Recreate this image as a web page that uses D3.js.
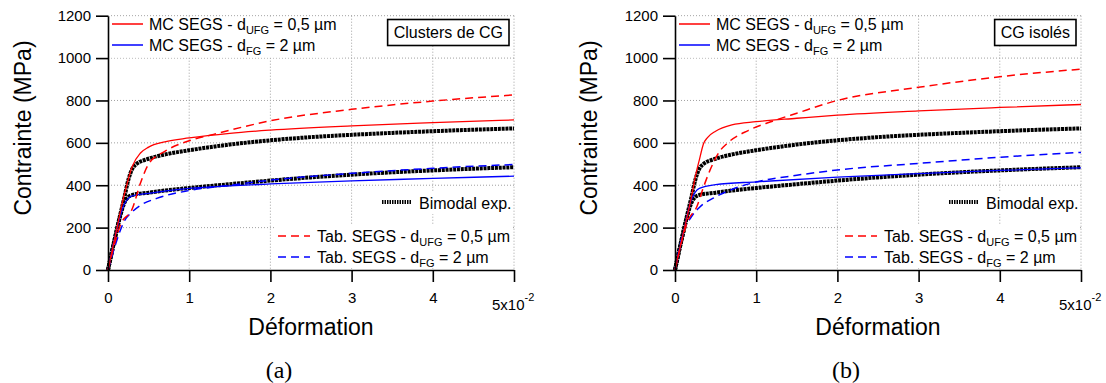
<!DOCTYPE html>
<html><head><meta charset="utf-8">
<script src="https://cdn.jsdelivr.net/npm/d3@7"></script>
<style>body{margin:0;background:#fff}svg{display:block}</style>
</head><body>
<svg id="c" width="1106" height="383"></svg>
<script>
// ---- data (strain in 1e-2, stress in MPa) ----
const strainTicks = [0, 1, 2, 3, 4, 5];
const stressTicks = [0, 200, 400, 600, 800, 1000, 1200];
const panelLabels = ["Clusters de CG", "CG isolés"];
const captions = ["(a)", "(b)"];

const expHigh = [[0,0],[0.05,90],[0.1,175],[0.15,260],[0.2,340],[0.25,425],[0.3,478],[0.35,500],[0.5,525],[0.7,545],[1,565],[1.5,592],[2,612],[2.5,627],[3,638],[3.5,647],[4,655],[4.5,662],[5,668]];
const expLow = [[0,0],[0.05,90],[0.1,175],[0.15,255],[0.2,315],[0.25,345],[0.3,354],[0.5,365],[0.7,375],[1,387],[1.5,405],[2,422],[2.5,437],[3,450],[3.5,461],[4,470],[4.5,478],[5,485]];

// (a) Clusters de CG
const mcUfgA = [[0,0],[0.1,180],[0.2,355],[0.3,490],[0.4,552],[0.5,580],[0.7,605],[1,623],[1.5,645],[2,660],[3,680],[4,695],[5,708]];
const mcFgA = [[0,0],[0.1,180],[0.2,310],[0.25,338],[0.3,350],[0.5,362],[1,385],[1.5,397],[2,406],[3,421],[4,432],[5,443]];
const tabUfgA = [[0,0],[0.1,150],[0.15,210],[0.3,290],[0.4,410],[0.5,500],[0.7,560],[1,610],[1.3,640],[2,704],[3,758],[4,797],[5,826]];
const tabFgA = [[0,0],[0.1,130],[0.15,185],[0.2,230],[0.3,275],[0.4,305],[0.6,338],[1,375],[1.5,400],[2,424],[3,456],[4,480],[5,498]];

// (b) CG isolés
const mcUfgB = [[0,0],[0.1,170],[0.2,340],[0.25,440],[0.3,520],[0.35,595],[0.4,625],[0.5,655],[0.7,685],[1,700],[1.5,716],[2,731],[3,751],[4,767],[5,781]];
const mcFgB = [[0,0],[0.1,170],[0.2,330],[0.25,368],[0.3,385],[0.5,403],[1,416],[2,438],[3,455],[4,470],[5,482]];
const tabUfgB = [[0,0],[0.1,160],[0.15,225],[0.27,300],[0.35,390],[0.43,470],[0.55,560],[0.65,600],[0.9,658],[1.2,702],[1.5,740],[2,800],[3,862],[4,912],[5,948]];
const tabFgB = [[0,0],[0.1,175],[0.2,250],[0.3,295],[0.5,345],[0.7,380],[1,415],[1.5,447],[2,472],[3,503],[4,532],[5,555]];

const RED = "#ff0000", BLUE = "#0000ff";
const FONT = "'Liberation Sans', Arial, sans-serif";

const svg = d3.select("#c");

function legendText(sel, x, y, pre, sub, post) {
  const t = sel.append("text").attr("x", x).attr("y", y)
    .attr("font-family", FONT).attr("font-size", 16).attr("fill", "#000");
  t.append("tspan").text(pre);
  t.append("tspan").attr("font-size", 11).attr("dy", 4).text(sub);
  t.append("tspan").attr("dy", -4).text(post);
  return t;
}

function panel(cfg) {
  const x = d3.scaleLinear().domain([0, 5]).range([cfg.x0, cfg.x1]);
  const y = d3.scaleLinear().domain([0, 1200]).range([270, 15.7]);
  const g = svg.append("g");

  // grid
  g.selectAll(".vg").data(strainTicks.slice(1)).join("line")
    .attr("x1", d => x(d)).attr("x2", d => x(d))
    .attr("y1", y(1200)).attr("y2", y(0))
    .attr("stroke", "#a0a0a0").attr("stroke-width", 1).attr("stroke-dasharray", "1,2");
  g.selectAll(".hg").data(stressTicks.slice(1)).join("line")
    .attr("x1", x(0)).attr("x2", x(5))
    .attr("y1", d => y(d)).attr("y2", d => y(d))
    .attr("stroke", "#a0a0a0").attr("stroke-width", 1).attr("stroke-dasharray", "1,2");

  const line = d3.line().x(d => x(d[0])).y(d => y(d[1])).curve(d3.curveMonotoneX);

  cfg.series.forEach(s => {
    g.append("path").datum(s.data).attr("d", line)
      .attr("fill", "none").attr("stroke", s.color)
      .attr("stroke-width", s.width)
      .attr("stroke-dasharray", s.dash || null);
  });

  const x5 = x(5), x0 = x(0);

  // top-left legend
  const tl = g.append("g");
  const tlBg = tl.append("rect").attr("fill", "#fff");
  tl.append("line").attr("x1", x0 + 4).attr("x2", x0 + 35).attr("y1", 24).attr("y2", 24).attr("stroke", RED).attr("stroke-width", 1.5);
  tl.append("line").attr("x1", x0 + 4).attr("x2", x0 + 35).attr("y1", 45).attr("y2", 45).attr("stroke", BLUE).attr("stroke-width", 1.5);
  const t1 = legendText(tl, x0 + 41, 30, "MC SEGS - d", "UFG", " = 0,5 µm");
  legendText(tl, x0 + 41, 51, "MC SEGS - d", "FG", " = 2 µm");
  const w1 = t1.node().getComputedTextLength();
  tlBg.attr("x", x0 + 1).attr("y", y(1200) + 1).attr("width", w1 + 46).attr("height", 41);

  // panel label box
  const lb = g.append("g");
  const lbRect = lb.append("rect").attr("fill", "#fff").attr("stroke", "#000").attr("stroke-width", 1.6);
  const lbt = lb.append("text").attr("text-anchor", "end").attr("x", x5 - 11).attr("y", 38)
    .attr("font-family", FONT).attr("font-size", 16).text(cfg.label);
  const lw = lbt.node().getComputedTextLength();
  lbRect.attr("x", x5 - 17 - lw).attr("y", 19.5).attr("width", lw + 12).attr("height", 26);

  // Bimodal exp legend
  const bl = g.append("g");
  bl.append("rect").attr("fill", "#fff").attr("x", x5 - 136).attr("y", 192).attr("width", 135).attr("height", 22);
  bl.append("line").attr("x1", x5 - 132).attr("x2", x5 - 102).attr("y1", 202).attr("y2", 202)
    .attr("stroke", "#000").attr("stroke-width", 4).attr("stroke-dasharray", "1.5,1");
  bl.append("text").attr("x", x5 - 95).attr("y", 208.5).attr("font-family", FONT).attr("font-size", 16).text("Bimodal exp.");

  // Tab legend
  const tb = g.append("g");
  tb.append("rect").attr("fill", "#fff").attr("x", x5 - 240).attr("y", 224).attr("width", 239).attr("height", 44);
  tb.append("line").attr("x1", x5 - 236).attr("x2", x5 - 204).attr("y1", 236).attr("y2", 236)
    .attr("stroke", RED).attr("stroke-width", 1.5).attr("stroke-dasharray", "8,5");
  tb.append("line").attr("x1", x5 - 236).attr("x2", x5 - 204).attr("y1", 257).attr("y2", 257)
    .attr("stroke", BLUE).attr("stroke-width", 1.5).attr("stroke-dasharray", "8,5");
  legendText(tb, x5 - 197, 241.5, "Tab. SEGS - d", "UFG", " = 0,5 µm");
  legendText(tb, x5 - 197, 262.5, "Tab. SEGS - d", "FG", " = 2 µm");

  // axes
  const ya = d3.axisLeft(y).tickValues(stressTicks).tickSize(12).tickSizeOuter(0).tickPadding(5)
    .tickFormat(d3.format("d"));
  const yg = g.append("g").attr("transform", `translate(${x0},0)`).call(ya);
  const xa = d3.axisBottom(x).tickValues(strainTicks).tickSize(12).tickSizeOuter(0).tickPadding(10)
    .tickFormat(d => d === 5 ? "" : d);
  const xg = g.append("g").attr("transform", `translate(0,${y(0)})`).call(xa);
  [yg, xg].forEach(a => {
    a.selectAll("path,line").attr("stroke", "#000").attr("stroke-width", 1.6);
    a.selectAll("text").attr("font-family", FONT).attr("font-size", 15).attr("fill", "#000");
  });

  // multiplier label
  const m = g.append("text").attr("x", x5 - 22).attr("y", 310).attr("font-family", FONT).attr("font-size", 15);
  m.append("tspan").text("5x10");
  m.append("tspan").attr("font-size", 11).attr("dy", -9).text("-2");

  // axis titles
  g.append("text").attr("transform", `translate(${cfg.yTitleX},${y(670)}) rotate(-90)`)
    .attr("text-anchor", "middle").attr("font-family", FONT).attr("font-size", 23).text("Contrainte (MPa)");
  g.append("text").attr("x", (x0 + x5) / 2).attr("y", 335).attr("text-anchor", "middle")
    .attr("font-family", FONT).attr("font-size", 23).text("Déformation");
  g.append("text").attr("x", (x0 + x5) / 2 - 32).attr("y", 378).attr("text-anchor", "middle")
    .attr("font-family", "'Liberation Serif', 'DejaVu Serif', serif").attr("font-size", 24).text(cfg.caption);
}

const exp = (d) => ({ data: d, color: "#000", width: 4, dash: "3,0.8" });

panel({
  x0: 108, x1: 514, yTitleX: 31, label: panelLabels[0], caption: captions[0],
  series: [
    exp(expHigh), exp(expLow),
    { data: tabFgA, color: BLUE, width: 1.5, dash: "8,5" },
    { data: mcFgA, color: BLUE, width: 1.3 },
    { data: tabUfgA, color: RED, width: 1.5, dash: "8,5" },
    { data: mcUfgA, color: RED, width: 1.3 }
  ]
});
panel({
  x0: 675, x1: 1081, yTitleX: 597, label: panelLabels[1], caption: captions[1],
  series: [
    exp(expHigh), exp(expLow),
    { data: tabFgB, color: BLUE, width: 1.5, dash: "8,5" },
    { data: mcFgB, color: BLUE, width: 1.3 },
    { data: tabUfgB, color: RED, width: 1.5, dash: "8,5" },
    { data: mcUfgB, color: RED, width: 1.3 }
  ]
});
</script>
</body></html>
